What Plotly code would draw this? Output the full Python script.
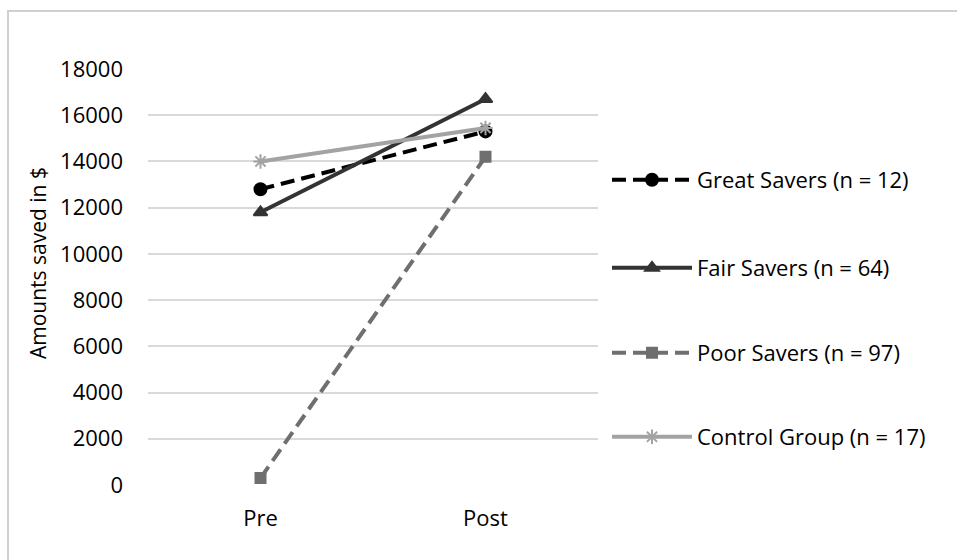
import plotly.graph_objects as go

# Savings before and after the programme, by saver group
phases = ["Pre", "Post"]
great_savers = [12800, 15300]
fair_savers = [11800, 16700]
poor_savers = [300, 14200]
control_group = [14000, 15450]

DASH = "14px,7px"
series = [
    ("Great Savers (n = 12)", great_savers, "#000000", DASH, "circle", 12, "legend"),
    ("Fair Savers (n = 64)", fair_savers, "#333333", "solid", "triangle-up", 12, "legend2"),
    ("Poor Savers (n = 97)", poor_savers, "#6f6f6f", DASH, "square", 10, "legend3"),
    ("Control Group (n = 17)", control_group, "#a3a3a3", "solid", "asterisk-open", 12, "legend4"),
]

FONT = "Open Sans, sans-serif"

fig = go.Figure()
for name, vals, color, dash, symbol, size, leg in series:
    fig.add_trace(go.Scatter(
        x=phases, y=vals, name=name, mode="lines+markers",
        line=dict(color=color, width=4, dash=dash),
        marker=dict(symbol=symbol, size=size, color=color,
                    line=dict(color=color, width=2)),
        legend=leg, showlegend=True,
    ))

leg_common = dict(
    font=dict(family=FONT, size=22, color="#000000"),
    bgcolor="rgba(0,0,0,0)", xanchor="left", yanchor="middle",
    itemwidth=80, tracegroupgap=0, visible=True,
)
leg_y = [180, 268, 353, 437]  # pixel rows of the legend entries
fig.update_layout(
    width=957, height=560,
    margin=dict(l=148, r=359, t=69, b=75),
    paper_bgcolor="white", plot_bgcolor="white",
    showlegend=True,
    font=dict(family=FONT, size=22, color="#000000"),
    legend=dict(x=1.02, y=1 - (leg_y[0] - 69) / 416, **leg_common),
    legend2=dict(x=1.02, y=1 - (leg_y[1] - 69) / 416, **leg_common),
    legend3=dict(x=1.02, y=1 - (leg_y[2] - 69) / 416, **leg_common),
    legend4=dict(x=1.02, y=1 - (leg_y[3] - 69) / 416, **leg_common),
    xaxis=dict(
        type="category", range=[-0.5, 1.5], showgrid=False, showline=False,
        ticks="", ticklabelstandoff=18,
        tickfont=dict(family=FONT, size=22, color="#000000"),
    ),
    yaxis=dict(
        range=[0, 18000], dtick=2000, tickformat="d", showgrid=True,
        gridcolor="#d9d9d9", gridwidth=1.5, zeroline=False, showline=False,
        ticks="", ticklabelstandoff=24,
        tickfont=dict(family=FONT, size=22, color="#000000"),
    ),
    annotations=[
        dict(text="Amounts saved in $", xref="paper", yref="paper",
             x=(38 - 148) / 450, y=1 - (263 - 69) / 416, textangle=-90,
             showarrow=False, xanchor="center", yanchor="middle",
             font=dict(family=FONT, size=21, color="#000000")),
    ],
    shapes=[
        dict(type="rect", xref="paper", yref="paper",
             x0=-140 / 450, x1=900 / 450, y0=-200 / 416, y1=1 + 58 / 416,
             line=dict(color="#d0d0d0", width=2), fillcolor="rgba(0,0,0,0)",
             layer="below"),
    ],
)

fig.write_html("out.html")
